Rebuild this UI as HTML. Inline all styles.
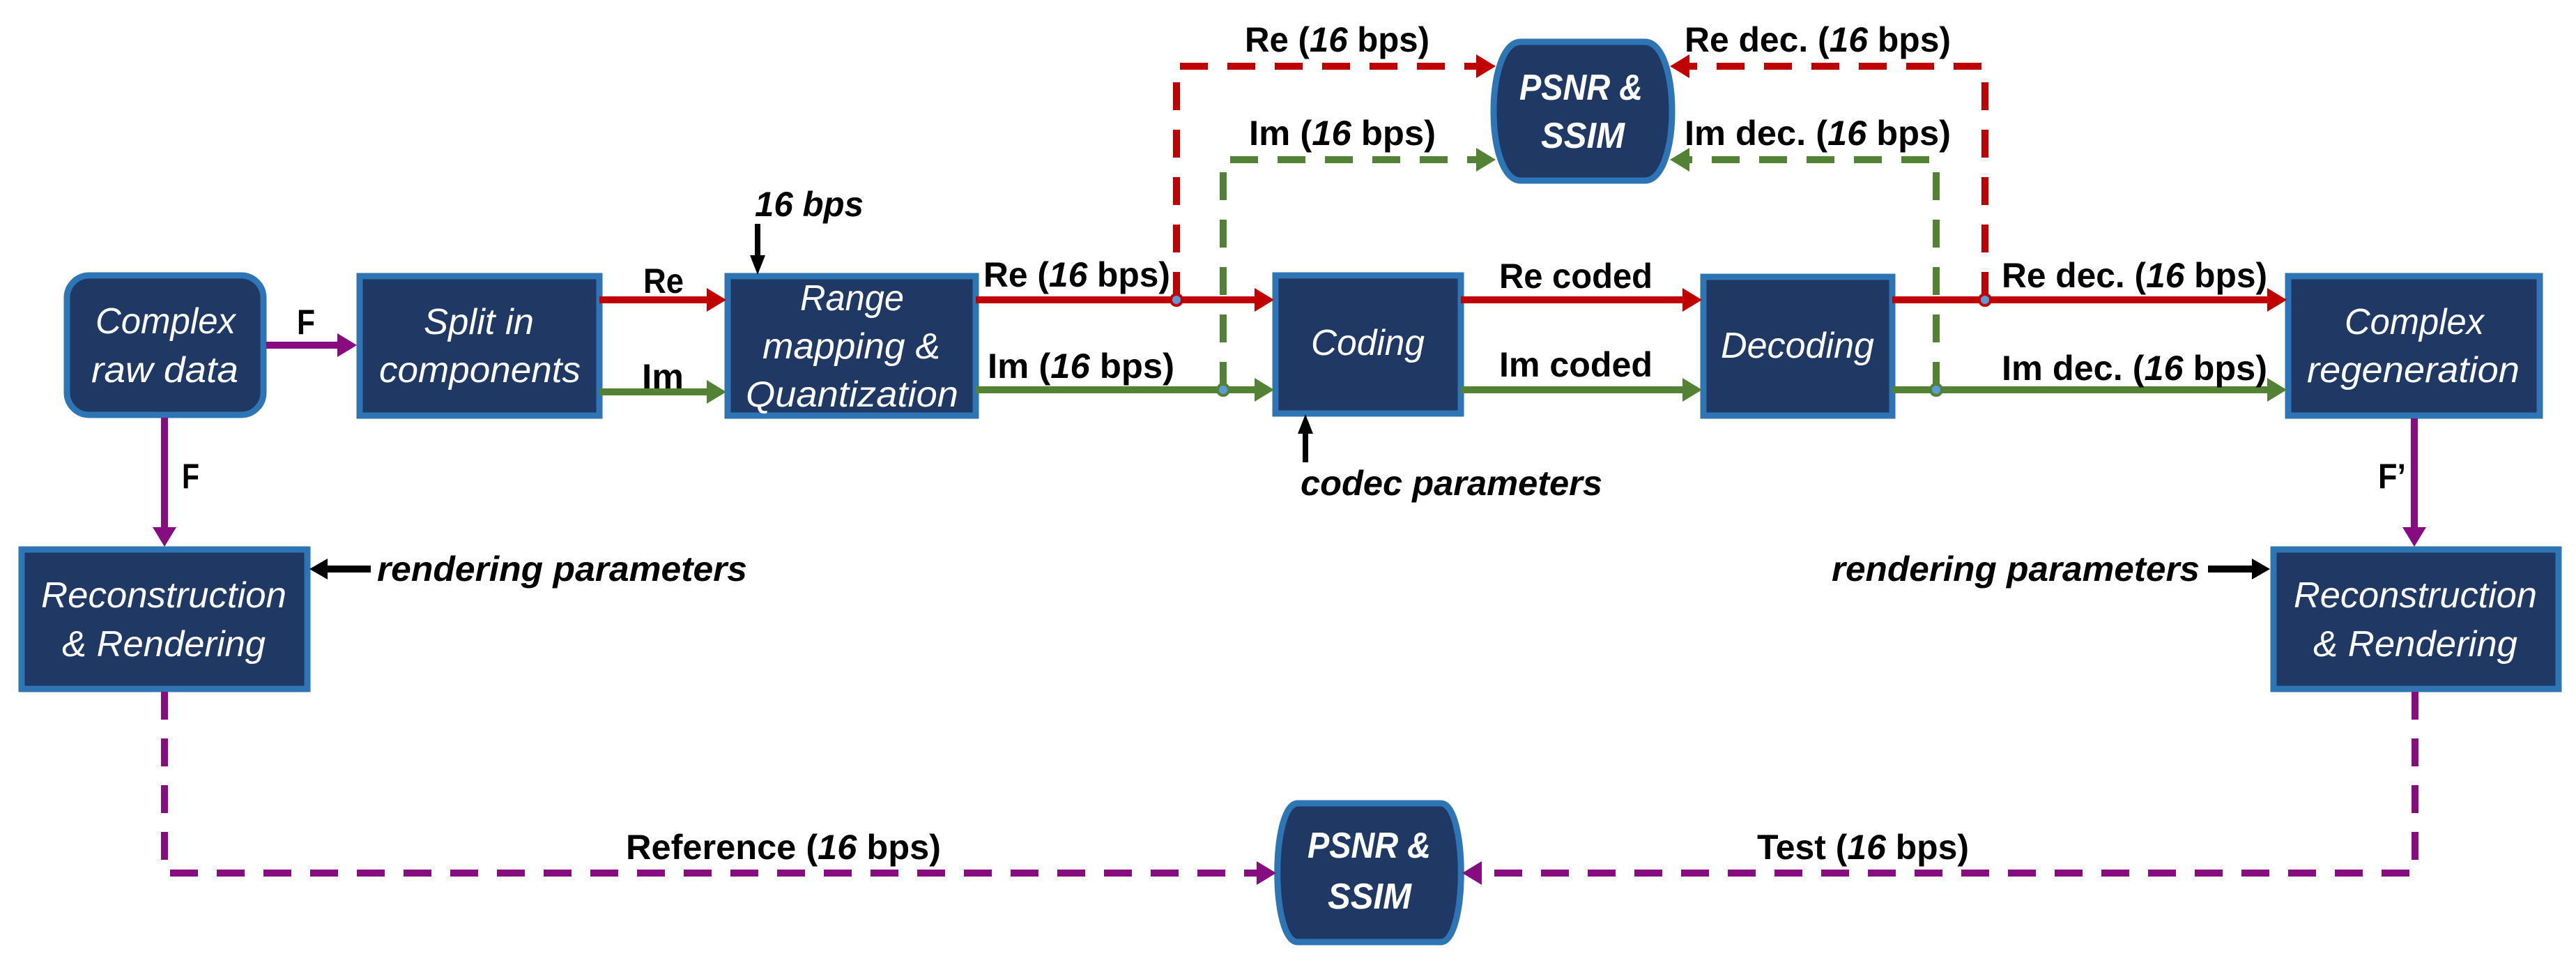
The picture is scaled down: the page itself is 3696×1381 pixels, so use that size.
<!DOCTYPE html>
<html><head><meta charset="utf-8"><style>
html,body{margin:0;padding:0;background:#fff}
svg{display:block}
.bx{fill:#203864;stroke:#2e75b6;stroke-width:9}
.wt{fill:#fff;font-family:"Liberation Sans",sans-serif;font-style:italic;font-size:52px}
.lb{fill:#000;font-family:"Liberation Sans",sans-serif;font-weight:bold;font-size:50px}
.li{fill:#000;font-family:"Liberation Sans",sans-serif;font-weight:bold;font-style:italic;font-size:50px}
</style></head><body>
<svg width="3696" height="1381" viewBox="0 0 3696 1381" xmlns="http://www.w3.org/2000/svg">
<!-- boxes -->
<rect class="bx" x="96" y="395" width="282" height="200" rx="32"/>
<rect class="bx" x="516" y="396" width="344" height="200"/>
<rect class="bx" x="1044" y="396" width="356" height="200"/>
<rect class="bx" x="1830" y="395" width="266" height="198"/>
<rect class="bx" x="2444" y="397" width="271" height="199"/>
<rect class="bx" x="3283" y="396" width="361" height="200"/>
<rect class="bx" x="31" y="788" width="410" height="200"/>
<rect class="bx" x="3262" y="788" width="409" height="200"/>
<path class="bx" d="M2182 60 H2360 C2412 60 2412 259 2360 259 H2182 C2130 259 2130 60 2182 60 Z"/>
<path class="bx" d="M1862 1152 H2067 C2106 1152 2106 1351 2067 1351 H1862 C1823 1351 1823 1152 1862 1152 Z"/>

<!-- box texts -->
<text class="wt" x="137" y="478" textLength="201" lengthAdjust="spacingAndGlyphs">Complex</text>
<text class="wt" x="131" y="548" textLength="211" lengthAdjust="spacingAndGlyphs">raw data</text>
<text class="wt" x="608" y="479" textLength="158" lengthAdjust="spacingAndGlyphs">Split in</text>
<text class="wt" x="544" y="548" textLength="289" lengthAdjust="spacingAndGlyphs">components</text>
<text class="wt" x="1148" y="445" textLength="149" lengthAdjust="spacingAndGlyphs">Range</text>
<text class="wt" x="1094" y="514" textLength="255" lengthAdjust="spacingAndGlyphs">mapping &amp;</text>
<text class="wt" x="1070" y="583" textLength="305" lengthAdjust="spacingAndGlyphs">Quantization</text>
<text class="wt" x="1881" y="509" textLength="163" lengthAdjust="spacingAndGlyphs">Coding</text>
<text class="wt" x="2469" y="513" textLength="220" lengthAdjust="spacingAndGlyphs">Decoding</text>
<text class="wt" x="3364" y="479" textLength="200" lengthAdjust="spacingAndGlyphs">Complex</text>
<text class="wt" x="3310" y="548" textLength="305" lengthAdjust="spacingAndGlyphs">regeneration</text>
<text class="wt" x="59" y="871" textLength="352" lengthAdjust="spacingAndGlyphs">Reconstruction</text>
<text class="wt" x="89" y="941" textLength="292" lengthAdjust="spacingAndGlyphs">&amp; Rendering</text>
<text class="wt" x="3291" y="871" textLength="349" lengthAdjust="spacingAndGlyphs">Reconstruction</text>
<text class="wt" x="3319" y="941" textLength="293" lengthAdjust="spacingAndGlyphs">&amp; Rendering</text>
<text class="wt" x="2180" y="143" font-weight="bold" textLength="177" lengthAdjust="spacingAndGlyphs">PSNR &amp;</text>
<text class="wt" x="2211" y="212" font-weight="bold" textLength="120" lengthAdjust="spacingAndGlyphs">SSIM</text>
<text class="wt" x="1876" y="1230" font-weight="bold" textLength="177" lengthAdjust="spacingAndGlyphs">PSNR &amp;</text>
<text class="wt" x="1905" y="1303" font-weight="bold" textLength="120" lengthAdjust="spacingAndGlyphs">SSIM</text>

<!-- purple solid -->
<g fill="#860c7f" stroke="#860c7f">
<line x1="382" y1="495" x2="488" y2="495" stroke-width="10"/>
<polygon points="512,495 484,478 484,512" stroke="none"/>
<line x1="236" y1="599" x2="236" y2="758" stroke-width="10"/>
<polygon points="236,784 219,756 253,756" stroke="none"/>
<line x1="3464" y1="600" x2="3464" y2="758" stroke-width="10"/>
<polygon points="3464,784 3447,756 3481,756" stroke="none"/>
</g>
<!-- purple dashed bottom -->
<g fill="none" stroke="#860c7f" stroke-width="10" stroke-dasharray="40 27">
<path d="M236 992 V1252 H1805"/>
<path d="M3465 992 V1252 H2124"/>
</g>
<polygon points="1831,1252 1803,1235 1803,1269" fill="#860c7f"/>
<polygon points="2098,1252 2126,1235 2126,1269" fill="#860c7f"/>

<!-- red solid -->
<g stroke="#c00000" stroke-width="10">
<line x1="860" y1="430" x2="1016" y2="430"/>
<line x1="1400" y1="430" x2="1802" y2="430"/>
<line x1="2096" y1="430" x2="2416" y2="430"/>
<line x1="2715" y1="430" x2="3255" y2="430"/>
</g>
<g fill="#c00000">
<polygon points="1042,430 1014,413 1014,447"/>
<polygon points="1828,430 1800,413 1800,447"/>
<polygon points="2442,430 2414,413 2414,447"/>
<polygon points="3281,430 3253,413 3253,447"/>
</g>
<!-- green solid -->
<g stroke="#548235" stroke-width="10">
<line x1="860" y1="562" x2="1016" y2="562"/>
<line x1="1400" y1="559" x2="1802" y2="559"/>
<line x1="2096" y1="559" x2="2416" y2="559"/>
<line x1="2715" y1="559" x2="3255" y2="559"/>
</g>
<g fill="#548235">
<polygon points="1042,562 1014,545 1014,579"/>
<polygon points="1828,559 1800,542 1800,576"/>
<polygon points="2442,559 2414,542 2414,576"/>
<polygon points="3281,559 3253,542 3253,576"/>
</g>

<!-- top dashed -->
<g fill="none" stroke-width="10" stroke-dasharray="40 28">
<path d="M1688 430 V95 H2120" stroke="#c00000"/>
<path d="M2848 430 V95 H2422" stroke="#c00000"/>
<path d="M1755 559 V229 H2120" stroke="#548235"/>
<path d="M2778 559 V229 H2422" stroke="#548235"/>
</g>
<polygon points="2146,95 2118,78 2118,112" fill="#c00000"/>
<polygon points="2396,95 2424,78 2424,112" fill="#c00000"/>
<polygon points="2146,229 2118,212 2118,246" fill="#548235"/>
<polygon points="2396,229 2424,212 2424,246" fill="#548235"/>

<!-- junction dots -->
<circle cx="1688" cy="430" r="8" fill="#5b9bd5" stroke="#c00000" stroke-width="4"/>
<circle cx="2848" cy="430" r="8" fill="#5b9bd5" stroke="#c00000" stroke-width="4"/>
<circle cx="1755" cy="559" r="8" fill="#5b9bd5" stroke="#548235" stroke-width="4"/>
<circle cx="2778" cy="559" r="8" fill="#5b9bd5" stroke="#548235" stroke-width="4"/>

<!-- black arrows -->
<g stroke="#000" stroke-width="8">
<line x1="1087" y1="321" x2="1087" y2="370"/>
<line x1="1873" y1="663" x2="1873" y2="617"/>
<line x1="532" y1="816" x2="468" y2="816" stroke-width="10"/>
<line x1="3168" y1="816" x2="3232" y2="816" stroke-width="10"/>
</g>
<polygon points="1087,394 1076,366 1098,366" fill="#000"/>
<polygon points="1873,594 1862,622 1884,622" fill="#000"/>
<polygon points="444,816 470,801 470,831" fill="#000"/>
<polygon points="3257,816 3231,801 3231,831" fill="#000"/>

<!-- labels -->
<text class="lb" x="426" y="479" font-size="56" textLength="26" lengthAdjust="spacingAndGlyphs">F</text>
<text class="lb" x="261" y="700" font-size="56" textLength="25" lengthAdjust="spacingAndGlyphs">F</text>
<text class="lb" x="3412" y="700" font-size="56" textLength="40" lengthAdjust="spacingAndGlyphs">F’</text>
<text class="lb" x="923" y="420" textLength="58" lengthAdjust="spacingAndGlyphs">Re</text>
<text class="lb" x="921" y="557" textLength="60" lengthAdjust="spacingAndGlyphs">Im</text>
<text class="li" x="1083" y="310" textLength="156" lengthAdjust="spacingAndGlyphs">16 bps</text>
<text class="li" x="541" y="833" textLength="531" lengthAdjust="spacingAndGlyphs">rendering parameters</text>
<text class="li" x="2628" y="833" textLength="528" lengthAdjust="spacingAndGlyphs">rendering parameters</text>
<text class="li" x="1866" y="710" textLength="433" lengthAdjust="spacingAndGlyphs">codec parameters</text>
<text class="lb" x="1411" y="411" textLength="268" lengthAdjust="spacingAndGlyphs">Re (<tspan font-style="italic">16</tspan> bps)</text>
<text class="lb" x="1417" y="542" textLength="268" lengthAdjust="spacingAndGlyphs">Im (<tspan font-style="italic">16</tspan> bps)</text>
<text class="lb" x="1786" y="74" textLength="265" lengthAdjust="spacingAndGlyphs">Re (<tspan font-style="italic">16</tspan> bps)</text>
<text class="lb" x="1792" y="208" textLength="268" lengthAdjust="spacingAndGlyphs">Im (<tspan font-style="italic">16</tspan> bps)</text>
<text class="lb" x="2417" y="74" textLength="382" lengthAdjust="spacingAndGlyphs">Re dec. (<tspan font-style="italic">16</tspan> bps)</text>
<text class="lb" x="2417" y="208" textLength="382" lengthAdjust="spacingAndGlyphs">Im dec. (<tspan font-style="italic">16</tspan> bps)</text>
<text class="lb" x="2151" y="413" textLength="220" lengthAdjust="spacingAndGlyphs">Re coded</text>
<text class="lb" x="2151" y="540" textLength="220" lengthAdjust="spacingAndGlyphs">Im coded</text>
<text class="lb" x="2872" y="412" textLength="381" lengthAdjust="spacingAndGlyphs">Re dec. (<tspan font-style="italic">16</tspan> bps)</text>
<text class="lb" x="2872" y="545" textLength="381" lengthAdjust="spacingAndGlyphs">Im dec. (<tspan font-style="italic">16</tspan> bps)</text>
<text class="lb" x="898" y="1232" textLength="452" lengthAdjust="spacingAndGlyphs">Reference (<tspan font-style="italic">16</tspan> bps)</text>
<text class="lb" x="2521" y="1232" textLength="304" lengthAdjust="spacingAndGlyphs">Test (<tspan font-style="italic">16</tspan> bps)</text>
</svg>
</body></html>
